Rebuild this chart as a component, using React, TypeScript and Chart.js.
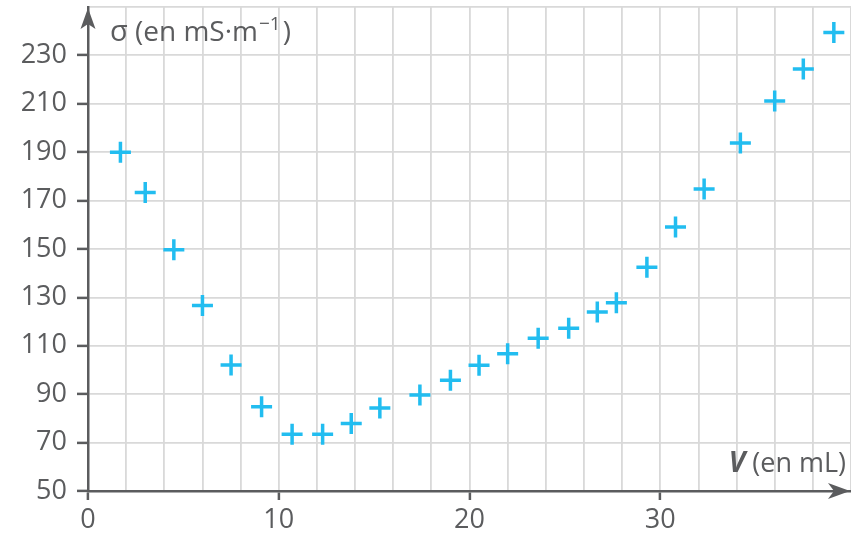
import React, { useEffect, useRef } from 'react';
import { Chart, registerables } from 'chart.js';

Chart.register(...registerables);

// Volume V (mL)
const volumes = [1.7, 3.0, 4.5, 6.0, 7.5, 9.1, 10.7, 12.3, 13.8, 15.3, 17.4, 19.0, 20.5, 22.0, 23.6, 25.2, 26.7, 27.7, 29.3, 30.8, 32.3, 34.2, 36.0, 37.5, 39.1];
// Conductivité σ (mS·m⁻¹)
const conductivities = [190, 173.3, 149.7, 126.7, 102.1, 84.8, 73.5, 73.5, 77.9, 84.3, 89.7, 95.8, 102, 106.7, 113.1, 117.3, 124, 127.8, 142.5, 159.1, 174.8, 193.8, 211.2, 224.4, 239.5];

const xLabelValues = [0, 10, 20, 30];
const yLabelValues = [50, 70, 90, 110, 130, 150, 170, 190, 210, 230];

const AXIS = '#5b5c5e';
const GRID = '#d9d9d9';
const MARK = '#22bdf0';
const FONT = "'Open Sans', 'Noto Sans', sans-serif";

const decorPlugin = {
  id: 'decor',
  afterDraw(chart: any) {
    const { ctx, chartArea } = chart;
    const left = chartArea.left;
    const bottom = chartArea.bottom;
    const right = chartArea.right;
    ctx.save();
    ctx.fillStyle = AXIS;
    // y-axis arrow (notched)
    const ty = 8;
    ctx.beginPath();
    ctx.moveTo(left, ty);
    ctx.lineTo(left + 7.5, ty + 21);
    ctx.lineTo(left, ty + 16);
    ctx.lineTo(left - 7.5, ty + 21);
    ctx.closePath();
    ctx.fill();
    // x-axis arrow (notched)
    const tx = right - 1;
    ctx.beginPath();
    ctx.moveTo(tx, bottom);
    ctx.lineTo(tx - 22, bottom - 8);
    ctx.lineTo(tx - 16, bottom);
    ctx.lineTo(tx - 22, bottom + 8);
    ctx.closePath();
    ctx.fill();

    // y title
    ctx.fillStyle = AXIS;
    ctx.textBaseline = 'alphabetic';
    ctx.textAlign = 'left';
    let x = left + 22;
    const yb = chartArea.top + 34;
    ctx.font = `29px ${FONT}`;
    const sigma = 'σ';
    ctx.fillText(sigma, x, yb);
    x += ctx.measureText(sigma).width;
    ctx.font = `28px ${FONT}`;
    const main = ' (en mS·m';
    ctx.fillText(main, x, yb);
    x += ctx.measureText(main).width;
    ctx.font = `19px ${FONT}`;
    const sup = '−1';
    ctx.fillText(sup, x + 1, yb - 11);
    x += ctx.measureText(sup).width + 3;
    ctx.font = `28px ${FONT}`;
    ctx.fillText(')', x, yb);

    // x title
    const xb = bottom - 19;
    ctx.textAlign = 'right';
    ctx.font = `27px ${FONT}`;
    const rest = ' (en mL)';
    const rx = right - 5;
    ctx.fillText(rest, rx, xb);
    const w = ctx.measureText(rest).width;
    ctx.font = `italic bold 28px ${FONT}`;
    ctx.fillText('V', rx - w, xb);
    ctx.restore();
  },
};

export default function App() {
  const ref = useRef<HTMLCanvasElement | null>(null);
  useEffect(() => {
    document.body.style.margin = '0';
    if (!ref.current) return;
    const chart = new Chart(ref.current, {
      type: 'scatter',
      data: {
        datasets: [
          {
            data: volumes.map((v, i) => ({ x: v, y: conductivities[i] })),
            pointStyle: 'cross',
            pointRadius: 10.5,
            pointHoverRadius: 10.5,
            borderColor: MARK,
            backgroundColor: MARK,
            pointBorderWidth: 3.5,
            borderWidth: 3.5,
          },
        ],
      },
      options: {
        responsive: false,
        animation: false,
        layout: { autoPadding: false, padding: { top: 7, right: 0, left: 0, bottom: 0 } },
        plugins: { legend: { display: false }, tooltip: { enabled: false } },
        scales: {
          x: {
            type: 'linear',
            min: 0,
            max: 40,
            afterFit: (s: any) => {
              s.height = 44;
              s.paddingLeft = 0;
              s.paddingRight = 0;
            },
            border: { color: AXIS, width: 2.5 },
            grid: {
              color: (c: any) => (c.tick && c.tick.value === 0 ? 'rgba(0,0,0,0)' : GRID),
              lineWidth: 1.8,
              tickLength: 9,
              tickColor: (c: any) =>
                c.tick && xLabelValues.includes(c.tick.value) ? AXIS : 'rgba(0,0,0,0)',
              tickWidth: 2.5,
            },
            ticks: {
              stepSize: 2,
              autoSkip: false,
              maxRotation: 0,
              padding: 4,
              color: AXIS,
              font: { family: FONT, size: 27 },
              callback: (v: any) => (xLabelValues.includes(v) ? String(v) : ''),
            },
          },
          y: {
            type: 'linear',
            min: 50,
            max: 250,
            afterFit: (s: any) => {
              s.width = 88;
              s.paddingTop = 0;
              s.paddingBottom = 0;
            },
            border: { color: AXIS, width: 2.5 },
            grid: {
              color: (c: any) => (c.tick && c.tick.value === 50 ? 'rgba(0,0,0,0)' : GRID),
              lineWidth: 1.8,
              tickLength: 11,
              tickColor: (c: any) =>
                c.tick && yLabelValues.includes(c.tick.value) ? AXIS : 'rgba(0,0,0,0)',
              tickWidth: 2.5,
            },
            ticks: {
              stepSize: 20,
              autoSkip: false,
              padding: 10,
              color: AXIS,
              font: { family: FONT, size: 27 },
              callback: (v: any) => (yLabelValues.includes(v) ? String(v) : ''),
            },
          },
        },
      },
      plugins: [decorPlugin],
    });
    return () => chart.destroy();
  }, []);
  return (
    <div style={{ position: 'absolute', left: 0, top: 0, width: 851, height: 535, background: '#fff' }}>
      <canvas ref={ref} width={851} height={535} />
    </div>
  );
}
